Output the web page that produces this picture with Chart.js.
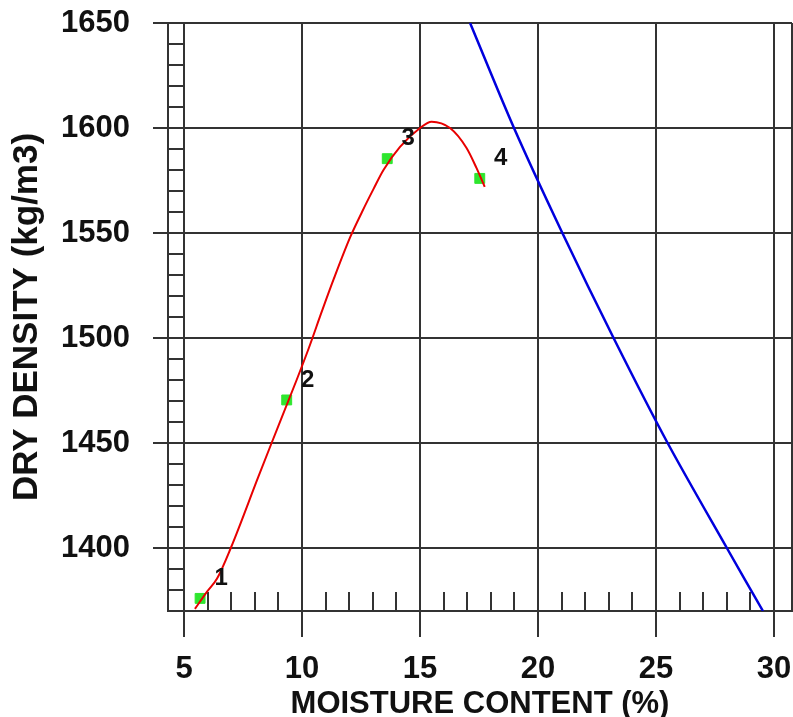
<!DOCTYPE html>
<html>
<head>
<meta charset="utf-8">
<script src="https://cdn.jsdelivr.net/npm/chart.js@4"></script>
<style>
  html, body { margin: 0; padding: 0; background: #fff; overflow: hidden; }
  #wrap { width: 793px; height: 717px; }
</style>
</head>
<body>
<div id="wrap"><canvas id="chart"></canvas></div>
<script>
// ── Data ──────────────────────────────────────────────────────
const testX      = [5.68, 9.35, 13.61, 17.53];
const testY      = [1376, 1470.5, 1585.4, 1576];
const testLabels = ['1', '2', '3', '4'];

// fitted compaction curve (red)
const curveX = [5.46, 5.96, 6.4, 6.98, 8.15, 8.71, 9.77, 10.28, 10.85, 11.34, 12.04, 12.54, 13.03, 13.45, 14.15, 15.0, 15.49, 16.27, 16.97, 17.39, 17.74];
const curveY = [1371, 1379, 1385.5, 1400, 1434, 1450, 1480, 1495, 1513, 1528, 1548, 1560, 1571, 1580, 1591, 1600, 1603, 1600, 1590.5, 1581, 1572];

// zero air voids line (blue)
const zavX = [17.12, 18.98, 21.03, 23.2, 25.49, 28.0, 29.53];
const zavY = [1650, 1600, 1550, 1500, 1450, 1400, 1370];

// axes
const xMin = 4.32, xMax = 30.76, xStep = 5, xMinorStep = 1;
const yMin = 1370, yMax = 1650, yStep = 50, yMinorStep = 10;

const FONT = "'Liberation Sans', Arial, sans-serif";
const INK  = '#111';
const GRID = '#333';

// ── Minor ticks + frame ───────────────────────────────────────
const minorTicks = {
  id: 'minorTicks',
  beforeDatasetsDraw(chart) {
    const { ctx, chartArea: a, scales: { x, y } } = chart;
    ctx.save();
    ctx.strokeStyle = GRID;
    ctx.lineWidth = 2;
    ctx.beginPath();
    for (let v = Math.ceil(xMin); v < xMax; v += xMinorStep) {
      if (v % xStep === 0) continue;
      const px = Math.round(x.getPixelForValue(v));
      ctx.moveTo(px, a.bottom);
      ctx.lineTo(px, a.bottom - 19);
    }
    for (let v = yMin + yMinorStep; v < yMax; v += yMinorStep) {
      if (v % yStep === 0) continue;
      const py = Math.round(y.getPixelForValue(v));
      ctx.moveTo(a.left, py);
      ctx.lineTo(a.left + 16, py);
    }
    // right edge of the plot frame
    ctx.moveTo(a.right, a.top);
    ctx.lineTo(a.right, a.bottom);
    ctx.stroke();
    ctx.restore();
  }
};

// ── Numbers next to the test points ───────────────────────────
const pointNumbers = {
  id: 'pointNumbers',
  afterDatasetsDraw(chart) {
    const { ctx, scales: { x, y } } = chart;
    ctx.save();
    ctx.font = 'bold 24px ' + FONT;
    ctx.fillStyle = INK;
    ctx.textAlign = 'center';
    ctx.textBaseline = 'middle';
    testLabels.forEach((t, i) => {
      ctx.fillText(t, x.getPixelForValue(testX[i]) + 21, y.getPixelForValue(testY[i]) - 20);
    });
    ctx.restore();
  }
};

new Chart(document.getElementById('chart'), {
  type: 'scatter',
  data: {
    datasets: [
      {
        label: 'curve',
        data: curveX.map((v, i) => ({ x: v, y: curveY[i] })),
        showLine: true,
        borderColor: '#e80000',
        borderWidth: 2,
        pointRadius: 0,
        cubicInterpolationMode: 'monotone'
      },
      {
        label: 'tests',
        data: testX.map((v, i) => ({ x: v, y: testY[i] })),
        pointStyle: 'rect',
        pointRadius: 7,
        backgroundColor: '#2ee62e',
        borderColor: '#2ee62e'
      },
      {
        label: 'zav',
        data: zavX.map((v, i) => ({ x: v, y: zavY[i] })),
        showLine: true,
        borderColor: '#0000dd',
        borderWidth: 2.5,
        pointRadius: 0,
        tension: 0.3
      }
    ]
  },
  options: {
    responsive: true,
    maintainAspectRatio: false,
    animation: false,
    layout: { autoPadding: false, padding: { top: 23, right: 1, left: 0, bottom: 0 } },
    plugins: { legend: { display: false }, tooltip: { enabled: false } },
    scales: {
      x: {
        type: 'linear',
        position: 'bottom',
        min: xMin,
        max: xMax,
        grid: { color: GRID, lineWidth: 2, tickLength: 26, tickColor: GRID },
        border: { color: GRID, width: 2 },
        ticks: {
          stepSize: xStep, includeBounds: false, maxRotation: 0, padding: 14,
          color: INK, font: { family: FONT, size: 31, weight: 'bold' }
        },
        title: {
          display: true, text: 'MOISTURE CONTENT (%)', color: INK,
          font: { family: FONT, size: 31, weight: 'bold', lineHeight: 0.8 },
          padding: { top: 0, bottom: 0 }
        },
        afterFit: s => { s.height = 106; s.paddingLeft = 0; s.paddingRight = 0; }
      },
      y: {
        type: 'linear',
        min: yMin,
        max: yMax,
        grid: { color: GRID, lineWidth: 2, tickLength: 15, tickColor: GRID },
        border: { color: GRID, width: 2 },
        ticks: {
          stepSize: yStep, includeBounds: false, padding: 23,
          color: INK, font: { family: FONT, size: 31, weight: 'bold' },
          callback: v => String(v)
        },
        title: {
          display: true, text: 'DRY DENSITY (kg/m3)', color: INK,
          font: { family: FONT, size: 35, weight: 'bold', lineHeight: 1 },
          padding: { top: 10, bottom: 0 }
        },
        afterFit: s => { s.width = 168; s.paddingTop = 0; s.paddingBottom = 0; }
      }
    }
  },
  plugins: [minorTicks, pointNumbers]
});
</script>
</body>
</html>
